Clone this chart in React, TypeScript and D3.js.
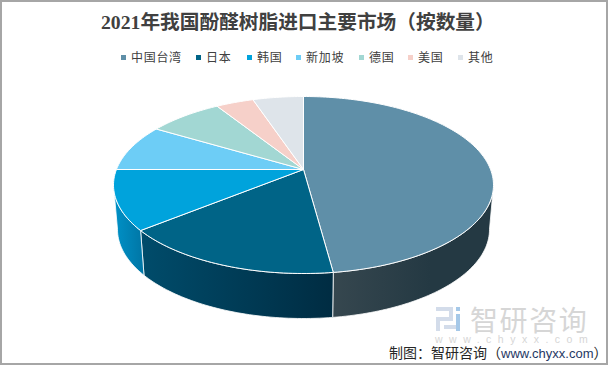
import React from "react";
import * as d3 from "d3";

const categories = ["中国台湾", "日本", "韩国", "新加坡", "德国", "美国", "其他"];
const shares = [47.9, 16.2, 10.9, 8.6, 7.5, 3.8, 5.1];
const topColors = ["#5F8FA8", "#006487", "#00A3DC", "#6DCDF6", "#A2D7D3", "#F6D0C9", "#DEE4EA"];
const sideFrom = ["#36474f", "#004c6b", "#0092c8", "#4aa8cc", "#86b4b0", "#d0aca6", "#bcc2c8"];
const sideTo = ["#243943", "#002c42", "#0078a8", "#4aa8cc", "#86b4b0", "#d0aca6", "#bcc2c8"];
const legendStarts = [121, 196, 247, 296, 359, 408, 458];

const W = 608, H = 365;
const top = { cx: 303.5, cy: 185, rx: 190, ry: 88.5 };
const bot = { cx: 303.5, cy: 229.5, rx: 186, ry: 89 };
const a = -0.175; // perspective shift of the pie's centre

function unit(theta: number) {
  const x = Math.sin(theta), y = -Math.cos(theta);
  const d = 1 + a * y;
  return [(x * Math.sqrt(1 - a * a)) / d, (y + a) / d];
}
const onE = (e: typeof top, u: number[]): [number, number] => [e.cx + e.rx * u[0], e.cy + e.ry * u[1]];

const arcs = d3.pie<number>().sort(null).value((d) => d)(shares);
const line = d3.line();

function samples(s: number, e: number) {
  const n = Math.max(2, Math.ceil((e - s) / 0.02));
  return d3.range(n + 1).map((i) => unit(s + ((e - s) * i) / n));
}
function topPath(s: number, e: number) {
  const apex = onE(top, [0, a]);
  return line([apex, ...samples(s, e).map((u) => onE(top, u))]) + "Z";
}
function sidePath(s: number, e: number) {
  const pts = samples(s, e);
  return line([...pts.map((u) => onE(top, u)), ...pts.slice().reverse().map((u) => onE(bot, u))]) + "Z";
}
function sideRange(d: { startAngle: number; endAngle: number }) {
  const pts = samples(d.startAngle, d.endAngle).map((u) => onE(top, u)[0]);
  return [d3.min(pts)!, d3.max(pts)!];
}
// Side walls only face the viewer on the front of the pie
const frontStart = (100 / 180) * Math.PI;
const frontEnd = (260 / 180) * Math.PI;

export default function App() {
  return (
    <svg width={W} height={H} viewBox={`0 0 ${W} ${H}`} style={{ position: "absolute", left: 0, top: 0, background: "#fff" }}>
      <defs>
        {arcs.map((d, i) => {
          const [x1, x2] = sideRange(d);
          return (
            <linearGradient key={i} id={`g${i}`} gradientUnits="userSpaceOnUse" x1={i === 0 ? 333 : x2} x2={i === 0 ? 430 : x1} y1={0} y2={0}>
              <stop offset="0" stopColor={i === 0 ? sideFrom[i] : sideTo[i]} />
              <stop offset="1" stopColor={i === 0 ? sideTo[i] : sideFrom[i]} />
            </linearGradient>
          );
        })}
      </defs>
      <rect x={0} y={0} width={W} height={2} fill="#a6a6a6" />
      <rect x={0} y={0} width={2} height={H} fill="#a6a6a6" />
      <rect x={W - 2} y={0} width={2} height={H} fill="#a6a6a6" />
      <rect x={0} y={H - 2} width={W} height={2} fill="#a6a6a6" />
      <text x={101} y={29} fontFamily="'Liberation Serif','Noto Sans CJK SC'" fontWeight={700} fontSize={19.7} fill="#404040">
        2021年我国酚醛树脂进口主要市场（按数量）
      </text>
      {categories.map((c, i) => (
        <g key={c}>
          <rect x={legendStarts[i]} y={55} width={5} height={5} fill={topColors[i]} />
          <text x={legendStarts[i] + 10} y={62} fontFamily="'Noto Sans CJK SC'" fontSize={12} letterSpacing={0.7} fill="#404040">{c}</text>
        </g>
      ))}
      {arcs.map((d, i) => {
        const s = Math.max(d.startAngle, frontStart);
        const e = Math.min(d.endAngle, frontEnd);
        if (e <= s) return null;
        return <path key={i} d={sidePath(s, e)} fill={`url(#g${i})`} stroke="#fff" strokeWidth={0.8} strokeLinejoin="round" />;
      })}
      {arcs.map((d, i) => (
        <path key={i} d={topPath(d.startAngle, d.endAngle)} fill={topColors[i]} stroke="#fff" strokeWidth={1} strokeLinejoin="round" />
      ))}
      {/* watermark */}
      <g fill="#d3dcea">
        <rect x={436} y={307} width={17} height={4} />
        <rect x={449} y={307} width={4} height={13} />
        <rect x={436} y={317} width={17} height={4} />
        <rect x={436} y={317} width={4} height={14} />
        <rect x={444} y={325} width={12} height={4} />
        <rect x={456} y={307} width={4} height={4} fill="#a5c8e8" />
        <rect x={456} y={314} width={4} height={17} fill="#a5c8e8" />
      </g>
      <text x={470} y={331} fontFamily="'Noto Sans CJK SC'" fontSize={28} letterSpacing={1.6} fill="#d6d6d6">智研咨询</text>
      <text x={435} y={343} fontFamily="'Liberation Sans'" fontSize={10.5} letterSpacing={6.5} fill="#d6d6d6">www.chyxx.com</text>
      <text x={389} y={358} fontFamily="'Noto Sans CJK SC'" fontSize={14} fill="#262626">制图：智研咨询（<tspan fontFamily="'Liberation Sans'" fontSize={13} fill="#1f3864">www.chyxx.com</tspan>）</text>
    </svg>
  );
}
